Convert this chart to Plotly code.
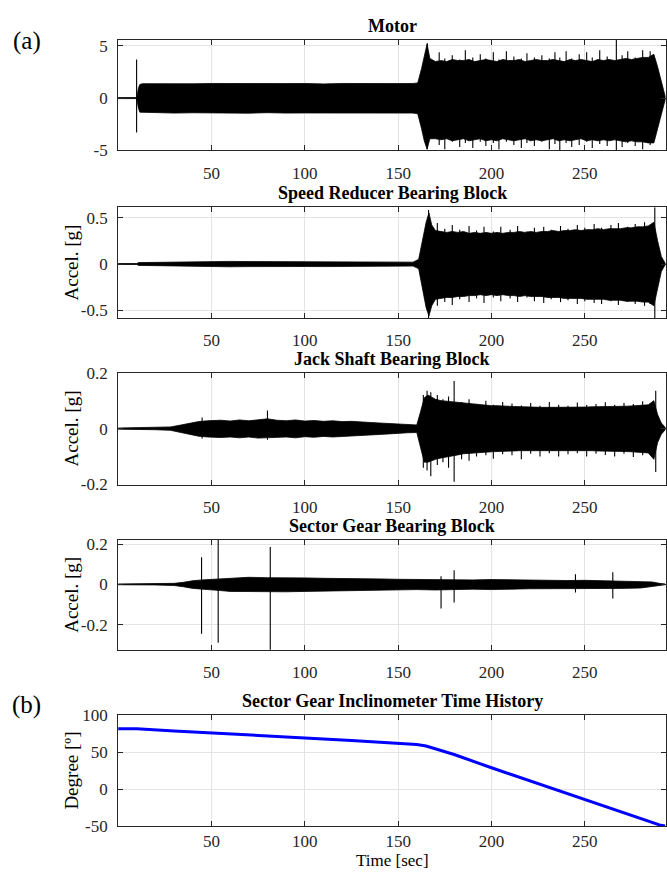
import plotly.graph_objects as go

# ---------------- data ----------------
loud_t = [170 + 3 * i for i in range(39)]  # 170 ... 284 envelope reading times
tail_t = [287, 289, 291, 293]

# Motor
motor_t = [0, 10.0, 10.8, 11.6, 13, 20, 30, 40, 50, 60, 70, 80, 90, 100, 110, 120, 130, 140, 150, 158, 160.5, 162.5, 164, 165.5, 167]
motor_hi = [0.05, 0.05, 0.9, 1.3, 1.38, 1.36, 1.4, 1.37, 1.4, 1.38, 1.41, 1.37, 1.39, 1.4, 1.36, 1.4, 1.38, 1.41, 1.39, 1.4, 1.45, 2.8, 4.0, 5.2, 3.8]
motor_lo = [-0.05, -0.05, -0.9, -1.35, -1.42, -1.4, -1.44, -1.41, -1.43, -1.42, -1.45, -1.4, -1.44, -1.43, -1.41, -1.44, -1.42, -1.45, -1.43, -1.44, -1.5, -2.9, -4.1, -4.9, -3.9]
motor_loud_hi = [3.5, 3.6, 3.5, 3.7, 3.6, 3.6, 3.7, 3.5, 3.6, 3.7, 3.6, 3.5, 3.7, 3.6, 3.6, 3.7, 3.5, 3.6, 3.7, 3.6,
                 3.6, 3.7, 3.6, 3.5, 3.7, 3.6, 3.7, 3.6, 3.5, 3.7, 3.6, 3.7, 3.6, 3.7, 3.8, 3.7, 3.8, 3.9, 3.9]
motor_loud_lo = [-3.9, -4.0, -3.9, -4.1, -4.0, -3.9, -4.1, -4.0, -3.9, -4.1, -4.0, -4.1, -3.9, -4.0, -4.1, -4.0, -3.9, -4.1, -4.0, -4.1,
                 -4.0, -3.9, -4.1, -4.0, -4.1, -4.0, -3.9, -4.1, -4.0, -4.1, -4.0, -4.1, -4.0, -4.1, -4.2, -4.1, -4.2, -4.2, -4.3]
motor_tail_hi = [4.2, 3.0, 1.5, 0.2]
motor_tail_lo = [-4.3, -3.0, -1.5, -0.2]
motor_spike_t = [9.9, 165.7, 172, 175, 179, 183, 186, 190, 194, 197, 201, 204, 208, 212, 216, 219, 223, 227, 231, 234, 236.6, 240,
                 243, 247, 251, 254, 258, 262, 266.9, 270, 273, 277, 281, 285]
motor_spike_hi = [3.7, 5.25, 4.4, 3.8, 4.1, 3.7, 4.6, 3.9, 4.2, 3.8, 4.4, 3.7, 4.5, 4.0, 3.8, 4.3, 3.9, 4.1, 3.8, 4.4, 3.9, 4.5,
                  3.8, 4.2, 4.4, 3.9, 4.6, 4.0, 5.6, 4.1, 4.5, 3.9, 4.6, 4.5]
motor_spike_lo = [-3.3, -4.9, -4.5, -4.9, -4.2, -4.7, -4.3, -4.8, -4.2, -4.6, -4.3, -4.9, -4.2, -4.5, -4.8, -4.3, -4.6, -4.2, -4.9, -4.4, -5.0, -4.3,
                  -4.7, -4.5, -4.2, -4.8, -4.4, -4.6, -5.0, -4.7, -4.3, -4.6, -4.9, -4.5]

# Speed reducer bearing block
speed_t = [0, 10, 11, 20, 30, 40, 50, 60, 70, 80, 90, 100, 110, 120, 130, 140, 150, 158, 161, 163, 165, 166.5, 168]
speed_hi = [0.005, 0.005, 0.015, 0.018, 0.02, 0.022, 0.025, 0.028, 0.026, 0.025, 0.027, 0.025, 0.026, 0.024, 0.025, 0.024, 0.022, 0.02, 0.05, 0.25, 0.45, 0.55, 0.42]
speed_lo = [-0.005, -0.005, -0.015, -0.02, -0.022, -0.024, -0.027, -0.03, -0.028, -0.027, -0.03, -0.027, -0.028, -0.026, -0.027, -0.026, -0.024, -0.022, -0.05, -0.25, -0.47, -0.56, -0.45]
speed_loud_hi = [0.36, 0.35, 0.34, 0.35, 0.34, 0.35, 0.33, 0.34, 0.33, 0.34, 0.33, 0.34, 0.33, 0.34, 0.34, 0.35, 0.34, 0.35, 0.34, 0.35,
                 0.35, 0.36, 0.35, 0.36, 0.36, 0.37, 0.36, 0.37, 0.37, 0.38, 0.37, 0.38, 0.38, 0.38, 0.39, 0.39, 0.40, 0.40, 0.41]
speed_loud_lo = [-0.38, -0.37, -0.36, -0.36, -0.35, -0.35, -0.34, -0.34, -0.33, -0.34, -0.33, -0.34, -0.33, -0.34, -0.34, -0.35, -0.34, -0.35, -0.35, -0.35,
                 -0.36, -0.36, -0.36, -0.37, -0.37, -0.37, -0.37, -0.38, -0.38, -0.38, -0.38, -0.39, -0.39, -0.39, -0.40, -0.40, -0.40, -0.41, -0.41]
speed_tail_hi = [0.45, 0.25, 0.08, 0.01]
speed_tail_lo = [-0.45, -0.25, -0.08, -0.01]
speed_spike_t = [166.3, 171, 175, 179, 183, 188, 192, 196, 201, 205, 210, 214, 219, 223, 228, 232, 237, 241, 246, 250,
                 255, 259, 264, 268, 273, 277, 282, 285, 287.5]
speed_spike_hi = [0.58, 0.44, 0.38, 0.42, 0.37, 0.41, 0.36, 0.40, 0.35, 0.40, 0.37, 0.41, 0.35, 0.39, 0.40, 0.37, 0.41, 0.38, 0.42, 0.39,
                  0.43, 0.39, 0.42, 0.44, 0.40, 0.43, 0.45, 0.42, 0.61]
speed_spike_lo = [-0.58, -0.45, -0.41, -0.44, -0.38, -0.41, -0.37, -0.42, -0.36, -0.40, -0.37, -0.41, -0.36, -0.40, -0.42, -0.38, -0.41, -0.39, -0.43, -0.40,
                  -0.42, -0.43, -0.40, -0.44, -0.41, -0.43, -0.45, -0.43, -0.58]

# Jack shaft bearing block
jack_t = [0, 10, 20, 28, 33, 38, 43, 48, 55, 60, 65, 70, 75, 80, 85, 90, 95, 100, 105, 110, 115, 120, 125, 130, 135, 140, 145, 150, 155, 160, 162, 164, 166]
jack_hi = [0.002, 0.003, 0.004, 0.006, 0.012, 0.018, 0.025, 0.028, 0.03, 0.027, 0.031, 0.028, 0.032, 0.035, 0.03, 0.028, 0.031, 0.027, 0.029, 0.026, 0.028, 0.025, 0.026, 0.023, 0.022, 0.02, 0.018, 0.015, 0.014, 0.013, 0.06, 0.11, 0.12]
jack_lo = [-0.002, -0.003, -0.004, -0.006, -0.013, -0.02, -0.027, -0.03, -0.032, -0.03, -0.033, -0.03, -0.034, -0.033, -0.032, -0.03, -0.033, -0.029, -0.031, -0.028, -0.03, -0.027, -0.027, -0.024, -0.023, -0.021, -0.019, -0.016, -0.015, -0.014, -0.07, -0.12, -0.12]
jack_loud_hi = [0.105, 0.10, 0.098, 0.095, 0.092, 0.09, 0.088, 0.086, 0.085, 0.083, 0.082, 0.082, 0.08, 0.08, 0.079, 0.078, 0.078, 0.077, 0.077, 0.076,
                0.076, 0.076, 0.075, 0.076, 0.076, 0.076, 0.077, 0.077, 0.078, 0.078, 0.078, 0.079, 0.08, 0.08, 0.08, 0.081, 0.082, 0.083, 0.085]
jack_loud_lo = [-0.11, -0.105, -0.10, -0.097, -0.094, -0.09, -0.088, -0.087, -0.085, -0.084, -0.083, -0.082, -0.081, -0.08, -0.08, -0.079, -0.079, -0.078, -0.078, -0.077,
                -0.077, -0.077, -0.077, -0.077, -0.078, -0.078, -0.078, -0.079, -0.079, -0.08, -0.08, -0.08, -0.081, -0.082, -0.082, -0.083, -0.084, -0.085, -0.087]
jack_tail_hi = [0.10, 0.05, 0.02, 0.005]
jack_tail_lo = [-0.11, -0.05, -0.02, -0.005]
jack_spike_t = [45, 80, 163.5, 165.5, 167.5, 171, 174, 177, 180, 184, 188, 192, 197, 201, 206, 211, 216, 221, 226, 231,
                236, 241, 246, 251, 256, 261, 266, 271, 276, 281, 288]
jack_spike_hi = [0.04, 0.065, 0.12, 0.135, 0.13, 0.12, 0.105, 0.115, 0.17, 0.095, 0.105, 0.088, 0.10, 0.085, 0.095, 0.09, 0.083, 0.092, 0.082, 0.095,
                 0.085, 0.082, 0.093, 0.084, 0.088, 0.094, 0.085, 0.092, 0.088, 0.098, 0.135]
jack_spike_lo = [-0.035, -0.04, -0.14, -0.15, -0.17, -0.13, -0.12, -0.14, -0.19, -0.11, -0.115, -0.1, -0.095, -0.108, -0.092, -0.095, -0.11, -0.09, -0.1, -0.088,
                 -0.1, -0.092, -0.088, -0.1, -0.09, -0.094, -0.1, -0.09, -0.102, -0.095, -0.155]

# Sector gear bearing block
sector_t = [0, 10, 20, 30, 35, 40, 45, 50, 55, 60, 70, 80, 90, 100, 110, 120, 130, 140, 150, 160, 170, 180, 190, 200, 210, 220, 230, 240, 250, 260, 270, 280, 286, 290, 293]
sector_hi = [0.002, 0.002, 0.003, 0.005, 0.01, 0.018, 0.022, 0.025, 0.028, 0.032, 0.035, 0.033, 0.034, 0.032, 0.03, 0.03, 0.028, 0.027, 0.025, 0.024, 0.026, 0.025, 0.022, 0.024, 0.022, 0.02, 0.021, 0.019, 0.02, 0.018, 0.018, 0.016, 0.012, 0.005, 0.002]
sector_lo = [-0.002, -0.002, -0.003, -0.006, -0.012, -0.02, -0.025, -0.028, -0.031, -0.035, -0.038, -0.036, -0.037, -0.035, -0.033, -0.032, -0.03, -0.029, -0.027, -0.026, -0.028, -0.027, -0.024, -0.026, -0.024, -0.022, -0.023, -0.021, -0.022, -0.02, -0.02, -0.018, -0.013, -0.006, -0.002]
sector_spike_t = [44.7, 53.6, 81.5, 173, 180, 245, 265]
sector_spike_hi = [0.135, 0.22, 0.185, 0.04, 0.07, 0.05, 0.06]
sector_spike_lo = [-0.245, -0.29, -0.325, -0.12, -0.09, -0.04, -0.07]

# Inclinometer
incl_t = [0, 10, 30, 50, 75, 100, 125, 150, 160, 165, 170, 180, 200, 225, 250, 275, 290, 293]
incl_deg = [82, 82, 79, 76, 73, 69.5, 66, 62, 60.5, 58.5, 55, 47, 29, 7.5, -14, -35, -48.5, -50]

titles = ["Motor", "Speed Reducer Bearing Block", "Jack Shaft Bearing Block",
          "Sector Gear Bearing Block", "Sector Gear Inclinometer Time History"]
ylabels = [None, "Accel. [g]", "Accel. [g]", "Accel. [g]", "Degree [º]"]
xticks = [50, 100, 150, 200, 250]
yticks = [[-5, 0, 5], [-0.5, 0, 0.5], [-0.2, 0, 0.2], [-0.2, 0, 0.2], [-50, 0, 50, 100]]
yticktext = [["-5", "0", "5"], ["-0.5", "0", "0.5"], ["-0.2", "0", "0.2"], ["-0.2", "0", "0.2"], ["-50", "0", "50", "100"]]
yranges = [[-5, 5.57], [-0.58, 0.61], [-0.2, 0.2], [-0.325, 0.22], [-50, 100]]
xrange_ = [0, 293.5]

# ---------------- layout geometry (pixels) ----------------
W, H = 667, 881
LEFT = 118.3
panels_px = [(31.7, 144.3), (202.7, 315.7), (371.7, 486.0), (542.7, 655.0), (722.0, 835.0)]

SERIF = "Liberation Serif"
fig = go.Figure()


def band(t, hi, lo, axis):
    fig.add_trace(go.Scatter(x=t + t[::-1], y=hi + lo[::-1], mode="lines", fill="toself",
                             fillcolor="black", line=dict(color="black", width=0.8),
                             xaxis="x" + axis, yaxis="y" + axis, hoverinfo="skip", showlegend=False))


def spikes(t, hi, lo, axis):
    xs, ys = [], []
    for a, b, c in zip(t, hi, lo):
        xs += [a, a, None]
        ys += [c, b, None]
    fig.add_trace(go.Scatter(x=xs, y=ys, mode="lines", line=dict(color="black", width=1.1),
                             xaxis="x" + axis, yaxis="y" + axis, hoverinfo="skip", showlegend=False))


band(motor_t + loud_t + tail_t, motor_hi + motor_loud_hi + motor_tail_hi,
     motor_lo + motor_loud_lo + motor_tail_lo, "")
spikes(motor_spike_t, motor_spike_hi, motor_spike_lo, "")
band(speed_t + loud_t + tail_t, speed_hi + speed_loud_hi + speed_tail_hi,
     speed_lo + speed_loud_lo + speed_tail_lo, "2")
spikes(speed_spike_t, speed_spike_hi, speed_spike_lo, "2")
band(jack_t + loud_t + tail_t, jack_hi + jack_loud_hi + jack_tail_hi,
     jack_lo + jack_loud_lo + jack_tail_lo, "3")
spikes(jack_spike_t, jack_spike_hi, jack_spike_lo, "3")
band(sector_t, sector_hi, sector_lo, "4")
spikes(sector_spike_t, sector_spike_hi, sector_spike_lo, "4")
fig.add_trace(go.Scatter(x=incl_t, y=incl_deg, mode="lines", line=dict(color="#0000ff", width=3),
                         xaxis="x5", yaxis="y5", hoverinfo="skip", showlegend=False))

axcolor = "#262626"
gridc = "#e3e3e3"
annotations = []
layout = {}
for i, (top, bot) in enumerate(panels_px):
    n = "" if i == 0 else str(i + 1)
    common = dict(
        ticks="inside", ticklen=5, tickwidth=1, tickcolor=axcolor,
        showline=True, linecolor=axcolor, linewidth=1, mirror="ticks",
        showgrid=True, gridcolor=gridc, gridwidth=1, zeroline=False,
        tickfont=dict(family=SERIF, size=17, color=axcolor),
    )
    layout["xaxis" + n] = dict(domain=[LEFT / W, 1.0], range=xrange_, anchor="y" + n,
                               tickvals=xticks, ticktext=[str(v) for v in xticks],
                               ticklabelstandoff=(0 if i == 4 else 7), **common)
    layout["yaxis" + n] = dict(domain=[1 - bot / H, 1 - top / H], range=yranges[i], anchor="x" + n,
                               tickvals=yticks[i], ticktext=yticktext[i], ticklabelstandoff=6, **common)
    annotations.append(dict(text="<b>" + titles[i] + "</b>", xref="x" + n + " domain", yref="paper",
                            x=0.5, y=1 - (top - 2) / H, xanchor="center", yanchor="bottom",
                            showarrow=False, font=dict(family=SERIF, size=18, color="black")))
    if ylabels[i]:
        annotations.append(dict(text=ylabels[i], xref="paper", yref="paper", x=72 / W,
                                y=1 - (top + bot) / 2 / H, textangle=-90, xanchor="center",
                                yanchor="middle", showarrow=False,
                                font=dict(family=SERIF, size=19, color="black")))

annotations.append(dict(text="(a)", xref="paper", yref="paper", x=27 / W, y=1 - 33 / H,
                        xanchor="center", yanchor="middle", showarrow=False,
                        font=dict(family=SERIF, size=25, color="black")))
annotations.append(dict(text="(b)", xref="paper", yref="paper", x=27 / W, y=1 - 711 / H,
                        xanchor="center", yanchor="middle", showarrow=False,
                        font=dict(family=SERIF, size=25, color="black")))
annotations.append(dict(text="Time [sec]", xref="paper", yref="paper", x=(LEFT + W) / 2 / W, y=0,
                        xanchor="center", yanchor="bottom", showarrow=False, borderpad=0,
                        font=dict(family=SERIF, size=17, color="black")))

fig.update_layout(width=W, height=H, margin=dict(l=0, r=0, t=0, b=0),
                  paper_bgcolor="white", plot_bgcolor="white",
                  annotations=annotations, showlegend=False, **layout)

fig.write_html("out.html", config={"displayModeBar": False},
               post_script="document.body.style.margin='0px';document.body.style.overflow='hidden';")
